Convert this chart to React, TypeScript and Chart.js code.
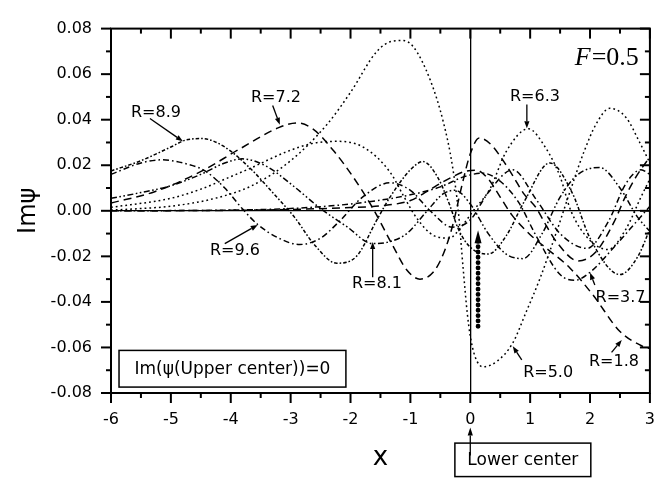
import React, { useEffect, useRef } from "react";
import { Chart, registerables } from "chart.js";

Chart.register(...registerables);

// Axis ticks
const xTickValues = [-6, -5, -4, -3, -2, -1, 0, 1, 2, 3];
const yTickValues = [-0.08, -0.06, -0.04, -0.02, 0, 0.02, 0.04, 0.06, 0.08];

// Im(psi) along x for each separation R
const r18X = [-6, -4, -3, -2, -1.5, -1.0, -0.72, -0.5, -0.29, -0.1, 0.1, 0.3, 0.5, 0.7, 1.0, 1.25, 1.66, 2.05, 2.5, 2.88, 3.0];
const r18Y = [0, 0.0002, 0.0006, 0.0014, 0.0022, 0.0045, 0.0085, 0.012, 0.015, 0.0172, 0.0178, 0.014, 0.006, -0.002, -0.0105, -0.016, -0.025, -0.037, -0.053, -0.0595, -0.0605];

const r37X = [-6, -4, -3, -2, -1, -0.5, -0.1, 0.2, 0.45, 0.8, 1.1, 1.5, 1.75, 2.0, 2.4, 2.8, 3.0];
const r37Y = [0, 0.0003, 0.001, 0.003, 0.007, 0.0105, 0.015, 0.0165, 0.014, 0.004, -0.011, -0.028, -0.0305, -0.027, -0.016, -0.004, 0.002];

const r50X = [-6, -5.5, -5, -4.26, -3.65, -3.0, -2.39, -2.0, -1.56, -1.3, -1.13, -0.95, -0.67, -0.45, -0.3, -0.2, -0.12, -0.05, 0.0, 0.08, 0.21, 0.45, 0.71, 0.94, 1.16, 1.45, 1.66, 1.9, 2.1, 2.33, 2.6, 2.83, 3.0];
const r50Y = [0.0003, 0.001, 0.002, 0.0055, 0.011, 0.022, 0.038, 0.052, 0.07, 0.0745, 0.0748, 0.072, 0.0575, 0.039, 0.02, 0.0, -0.025, -0.045, -0.055, -0.064, -0.0685, -0.066, -0.058, -0.044, -0.03, -0.0085, 0.008, 0.026, 0.038, 0.045, 0.041, 0.03, 0.021];

const r63X = [-6, -5, -4.5, -4, -3.73, -3.06, -2.63, -2.23, -1.79, -1.34, -1.12, -0.9, -0.6, -0.35, -0.15, 0.05, 0.33, 0.6, 0.97, 1.25, 1.5, 1.68, 2.0, 2.3, 2.6, 2.85, 3.0];
const r63Y = [0.0015, 0.0055, 0.0095, 0.015, 0.018, 0.026, 0.0296, 0.0305, 0.028, 0.017, 0.0068, -0.003, -0.011, -0.012, -0.007, 0.0, 0.0097, 0.026, 0.036, 0.028, 0.015, 0.0, -0.013, -0.017, -0.008, 0.006, 0.014];

const r72X = [-6, -5.27, -4.48, -3.88, -3.2, -2.9, -2.63, -2.29, -1.96, -1.63, -1.3, -1.06, -0.84, -0.62, -0.45, -0.29, -0.15, 0.0, 0.15, 0.35, 0.55, 0.72, 0.88, 1.1, 1.28, 1.45, 1.8, 2.1, 2.4, 2.6, 2.77, 3.0];
const r72Y = [0.0034, 0.0084, 0.0175, 0.0267, 0.0365, 0.0386, 0.036, 0.0266, 0.015, 0.0013, -0.015, -0.026, -0.03, -0.027, -0.019, -0.006, 0.01, 0.025, 0.032, 0.029, 0.022, 0.015, 0.008, 0.0013, -0.007, -0.014, -0.022, -0.018, -0.005, 0.0068, 0.015, 0.0237];

const r81X = [-6, -5.5, -5, -4.5, -4.1, -3.81, -3.4, -2.96, -2.5, -2.06, -1.63, -1.34, -1.06, -0.72, -0.45, -0.25, 0.0, 0.3, 0.6, 0.88, 1.2, 1.5, 1.8, 2.16, 2.5, 2.8, 3.0];
const r81Y = [0.0055, 0.008, 0.011, 0.016, 0.021, 0.0228, 0.0195, 0.011, 0.001, -0.007, -0.0144, -0.0135, -0.01, 0.0, 0.0075, 0.009, 0.003, -0.01, -0.019, -0.021, -0.01, 0.006, 0.016, 0.019, 0.01, -0.003, -0.009];

const r89X = [-6, -5.5, -5, -4.76, -4.48, -4.1, -3.65, -3.3, -2.93, -2.6, -2.23, -1.9, -1.56, -1.34, -1.0, -0.79, -0.55, -0.35, -0.2, 0.0, 0.3, 0.6, 0.9, 1.33, 1.7, 2.0, 2.5, 2.8, 3.0];
const r89Y = [0.0175, 0.022, 0.028, 0.031, 0.0317, 0.028, 0.018, 0.008, -0.003, -0.015, -0.023, -0.02, -0.004, 0.006, 0.018, 0.0216, 0.015, 0.003, -0.008, -0.016, -0.019, -0.011, 0.004, 0.021, 0.008, -0.012, -0.028, -0.02, -0.008];

const r96X = [-6, -5.5, -5.15, -4.8, -4.43, -4.1, -3.81, -3.55, -3.2, -2.85, -2.5, -2.2, -1.8, -1.34, -1.0, -0.67, -0.3, 0.0, 0.3, 0.71, 1.1, 1.5, 1.95, 2.3, 2.6, 2.85, 3.0];
const r96Y = [0.016, 0.021, 0.0224, 0.021, 0.0175, 0.01, 0.001, -0.006, -0.012, -0.0148, -0.012, -0.005, 0.006, 0.0123, 0.009, 0.0, -0.0072, -0.004, 0.008, 0.018, 0.005, -0.01, -0.0165, -0.005, 0.012, 0.018, 0.016];

// Curve labels: text centre and arrow (from -> to), in data units
const curveLabels = [
  { text: "R=8.9", tx: -5.25, ty: 0.0431, fx: -5.35, fy: 0.0405, toX: -4.8, toY: 0.0305 },
  { text: "R=7.2", tx: -3.245, ty: 0.0495, fx: -3.3, fy: 0.0462, toX: -3.18, toY: 0.0378 },
  { text: "R=6.3", tx: 1.08, ty: 0.0499, fx: 0.945, fy: 0.0467, toX: 0.945, toY: 0.0362 },
  { text: "R=9.6", tx: -3.93, ty: -0.0178, fx: -4.1, fy: -0.0144, toX: -3.55, toY: -0.0062 },
  { text: "R=8.1", tx: -1.56, ty: -0.0321, fx: -1.63, fy: -0.0292, toX: -1.63, toY: -0.0137 },
  { text: "R=5.0", tx: 1.3, ty: -0.071, fx: 0.86, fy: -0.0655, toX: 0.71, toY: -0.0595 },
  { text: "R=3.7", tx: 2.51, ty: -0.038, fx: 2.08, fy: -0.0326, toX: 2.0, toY: -0.0272 },
  { text: "R=1.8", tx: 2.4, ty: -0.0664, fx: 2.36, fy: -0.0622, toX: 2.53, toY: -0.0567 },
];

const series = [
  { label: "R=1.8", xs: r18X, ys: r18Y, dash: [8, 5] },
  { label: "R=3.7", xs: r37X, ys: r37Y, dash: [6, 3, 1.6, 3] },
  { label: "R=5.0", xs: r50X, ys: r50Y, dash: [1.8, 3] },
  { label: "R=6.3", xs: r63X, ys: r63Y, dash: [1.8, 3] },
  { label: "R=7.2", xs: r72X, ys: r72Y, dash: [8, 5] },
  { label: "R=8.1", xs: r81X, ys: r81Y, dash: [6, 2.5, 1.6, 2.5, 1.6, 2.5] },
  { label: "R=8.9", xs: r89X, ys: r89Y, dash: [3.5, 2, 1.6, 2] },
  { label: "R=9.6", xs: r96X, ys: r96Y, dash: [6, 3, 1.6, 3] },
];

const SANS = "'DejaVu Sans', sans-serif";

function arrow(ctx: CanvasRenderingContext2D, x0: number, y0: number, x1: number, y1: number, head = 7, half = 2.6) {
  const ang = Math.atan2(y1 - y0, x1 - x0);
  const bx = x1 - head * Math.cos(ang);
  const by = y1 - head * Math.sin(ang);
  ctx.beginPath();
  ctx.moveTo(x0, y0);
  ctx.lineTo(bx, by);
  ctx.stroke();
  ctx.beginPath();
  ctx.moveTo(x1, y1);
  ctx.lineTo(bx + half * Math.sin(ang), by - half * Math.cos(ang));
  ctx.lineTo(bx - half * Math.sin(ang), by + half * Math.cos(ang));
  ctx.closePath();
  ctx.fill();
}

const overlayPlugin = {
  id: "overlay",
  afterDatasetsDraw(chart: any) {
    const { ctx, chartArea: a, scales } = chart;
    const sx = scales.x;
    const sy = scales.y;
    const px = (v: number) => sx.getPixelForValue(v);
    const py = (v: number) => sy.getPixelForValue(v);
    ctx.save();
    ctx.strokeStyle = "#000";
    ctx.fillStyle = "#000";
    ctx.setLineDash([]);

    // frame
    ctx.lineWidth = 2;
    ctx.strokeRect(a.left, a.top, a.right - a.left, a.bottom - a.top);

    // tick marks: outward on left/bottom, inward on top/right
    const seg = (x0: number, y0: number, x1: number, y1: number) => {
      ctx.beginPath();
      ctx.moveTo(x0, y0);
      ctx.lineTo(x1, y1);
      ctx.stroke();
    };
    xTickValues.forEach((v, i) => {
      const X = px(v);
      seg(X, a.bottom, X, a.bottom + 10);
      seg(X, a.top, X, a.top + 10);
      if (i < xTickValues.length - 1) {
        const m = px((v + xTickValues[i + 1]) / 2);
        seg(m, a.bottom, m, a.bottom + 5);
        seg(m, a.top, m, a.top + 5);
      }
    });
    yTickValues.forEach((v, i) => {
      const Y = py(v);
      seg(a.left - 10, Y, a.left, Y);
      seg(a.right - 10, Y, a.right, Y);
      if (i < yTickValues.length - 1) {
        const m = py((v + yTickValues[i + 1]) / 2);
        seg(a.left - 5, m, a.left, m);
        seg(a.right - 5, m, a.right, m);
      }
    });

    // curve labels with arrows
    ctx.lineWidth = 1.3;
    ctx.font = `16px ${SANS}`;
    ctx.textAlign = "center";
    ctx.textBaseline = "middle";
    curveLabels.forEach((l) => {
      ctx.fillText(l.text, px(l.tx), py(l.ty));
      arrow(ctx, px(l.fx), py(l.fy), px(l.toX), py(l.toY));
    });

    // bold dotted arrow near the lower centre
    const ax = px(0.13);
    const aTop = py(-0.0085);
    const aBot = py(-0.0507);
    ctx.save();
    ctx.lineWidth = 4.8;
    ctx.lineCap = "round";
    ctx.setLineDash([0.1, 5.2]);
    ctx.beginPath();
    ctx.moveTo(ax, aBot);
    ctx.lineTo(ax, aTop + 10);
    ctx.stroke();
    ctx.restore();
    ctx.beginPath();
    ctx.moveTo(ax, aTop);
    ctx.lineTo(ax - 3.5, aTop + 13);
    ctx.lineTo(ax + 3.5, aTop + 13);
    ctx.closePath();
    ctx.fill();

    // boxed note inside the plot
    ctx.lineWidth = 1.5;
    const b1x = px(-5.866), b2x = px(-2.077), b1y = py(-0.0613), b2y = py(-0.0774);
    ctx.strokeRect(b1x, b1y, b2x - b1x, b2y - b1y);
    ctx.font = `17px ${SANS}`;
    ctx.fillText("Im(\u03C8(Upper center))=0", (b1x + b2x) / 2, (b1y + b2y) / 2 + 1);

    // "Lower center" box under the axis, pointing to x = 0
    const c1x = px(-0.257), c2x = px(2.013), c1y = py(-0.102), c2y = py(-0.1167);
    ctx.strokeRect(c1x, c1y, c2x - c1x, c2y - c1y);
    ctx.fillText("Lower center", (c1x + c2x) / 2, (c1y + c2y) / 2 + 1);
    ctx.lineWidth = 1.3;
    arrow(ctx, px(0), py(-0.1074), px(0), py(-0.0951), 8, 2.6);

    // field strength
    ctx.textAlign = "left";
    ctx.textBaseline = "alphabetic";
    const fx = px(1.746);
    const fy = py(0.0638);
    ctx.font = `italic 26px 'Liberation Serif', serif`;
    ctx.fillText("F", fx, fy);
    const fw = ctx.measureText("F").width;
    ctx.font = `26px 'Liberation Serif', serif`;
    ctx.fillText("=0.5", fx + fw + 1, fy);

    ctx.restore();
  },
};

export default function App() {
  const canvasRef = useRef<HTMLCanvasElement | null>(null);

  useEffect(() => {
    const canvas = canvasRef.current;
    if (!canvas) return;
    const datasets = series.map((s) => ({
      label: s.label,
      data: s.xs.map((x, i) => ({ x, y: s.ys[i] })),
      borderColor: "#000",
      borderWidth: 1.5,
      borderDash: s.dash,
      pointRadius: 0,
      fill: false,
      cubicInterpolationMode: "monotone" as const,
    }));

    const chart = new Chart(canvas, {
      type: "line",
      data: { datasets },
      options: {
        animation: false,
        responsive: false,
        devicePixelRatio: 1,
        layout: { padding: { top: 14, right: 22, left: 0, bottom: 0 } },
        plugins: { legend: { display: false }, tooltip: { enabled: false } },
        scales: {
          x: {
            type: "linear",
            min: -6,
            max: 3,
            afterBuildTicks: (s: any) => {
              s.ticks = xTickValues.map((v) => ({ value: v }));
            },
            afterFit: (s: any) => {
              s.height = 87;
            },
            ticks: {
              color: "#000",
              font: { family: SANS, size: 16 },
              padding: 17,
              maxRotation: 0,
              autoSkip: false,
              callback: (v: any) => String(v),
            },
            grid: {
              color: (c: any) => (c.tick && Math.abs(c.tick.value) < 1e-9 ? "#000" : "rgba(0,0,0,0)"),
              lineWidth: 1.3,
              drawTicks: false,
            },
            border: { display: false },
            title: {
              display: true,
              text: "x",
              color: "#000",
              font: { family: SANS, size: 26 },
              padding: { top: 0, bottom: 6 },
            },
          },
          y: {
            type: "linear",
            min: -0.08,
            max: 0.08,
            afterBuildTicks: (s: any) => {
              s.ticks = yTickValues.map((v) => ({ value: v }));
            },
            afterFit: (s: any) => {
              s.width = 111;
            },
            ticks: {
              color: "#000",
              font: { family: SANS, size: 16 },
              padding: 19,
              callback: (v: any) => Number(v).toFixed(2),
            },
            grid: {
              color: (c: any) => (c.tick && Math.abs(c.tick.value) < 1e-9 ? "#000" : "rgba(0,0,0,0)"),
              lineWidth: 1.3,
              drawTicks: false,
            },
            border: { display: false },
            title: {
              display: true,
              text: "Im\u03C8",
              color: "#000",
              font: { family: SANS, size: 24 },
              padding: { top: 14, bottom: 0 },
            },
          },
        },
      },
      plugins: [overlayPlugin],
    });
    return () => chart.destroy();
  }, []);

  return (
    <div style={{ position: "absolute", left: 0, top: 0, width: 672, height: 480, background: "#fff" }}>
      <canvas ref={canvasRef} width={672} height={480} style={{ display: "block" }} />
    </div>
  );
}
